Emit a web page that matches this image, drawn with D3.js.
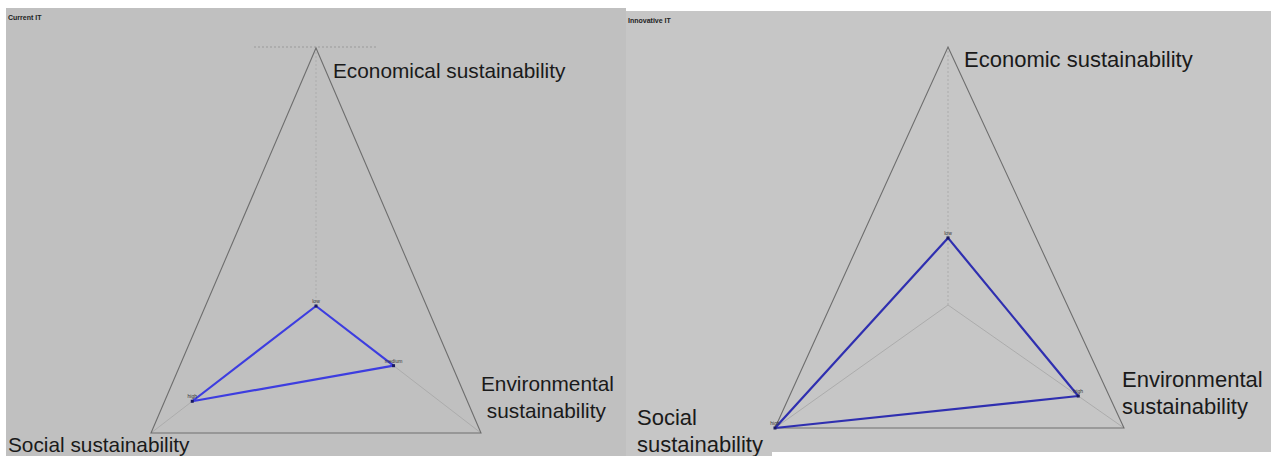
<!DOCTYPE html>
<html>
<head>
<meta charset="utf-8">
<script src="https://cdn.jsdelivr.net/npm/d3@7"></script>
<style>
  body { margin: 0; background: #ffffff; }
  svg { display: block; }
  .axis-label { font-family: "Liberation Sans", Arial, sans-serif; fill: #1a1a1a; }
  .title { font-family: "Liberation Sans", Arial, sans-serif; font-size: 7px; font-weight: bold; fill: #222; }
  .pt-label { font-family: "Liberation Sans", Arial, sans-serif; font-size: 5px; fill: #333; }
</style>
</head>
<body>
<svg id="chart" width="1271" height="456"></svg>
<script>
// axes of the radar, in drawing order: top, lower right, lower left
var axes = ["Economic", "Environmental", "Social"];

// fraction of the way from centre to the outer vertex
var current_values = [0.0, 0.47, 0.75];
var innovative_values = [0.26, 0.74, 1.0];

var current_point_labels = ["low", "medium", "high"];
var innovative_point_labels = ["low", "high", "high"];

var svg = d3.select("#chart");

// Panel layouts
var panels = [
  {
    title: "Current IT",
    values: current_values,
    point_labels: current_point_labels,
    bg: "#c0c0c0",
    box: [6, 8, 620, 448],
    center: [316, 306],
    vertices: [[316, 48], [481, 433], [151, 433]],
    line_color: "#3d3de0",
    top_rule: true,
    font_size: 20.8,
    labels: [
      {x: 333, y: 78, lines: ["Economical sustainability"]},
      {x: 481, y: 391, lines: ["Environmental", " sustainability"]},
      {x: 8, y: 452, lines: ["Social sustainability"]}
    ]
  },
  {
    title: "Innovative IT",
    values: innovative_values,
    point_labels: innovative_point_labels,
    bg: "#c6c6c6",
    box: [626, 11, 645, 441],
    center: [948, 305],
    vertices: [[948, 47], [1124, 428], [775, 428]],
    line_color: "#2f2fb0",
    top_rule: false,
    font_size: 22,
    labels: [
      {x: 964, y: 67, lines: ["Economic sustainability"]},
      {x: 1122, y: 387, lines: ["Environmental", "sustainability"]},
      {x: 637, y: 425, lines: ["Social", "sustainability"]}
    ]
  }
];

// right panel label column spills a little lower on its left side
svg.append("rect")
  .attr("x", 626).attr("y", 440).attr("width", 146).attr("height", 16)
  .style("fill", "#c6c6c6");

panels.forEach(function (p) {
  var g = svg.append("g");

  g.append("rect")
    .attr("x", p.box[0]).attr("y", p.box[1])
    .attr("width", p.box[2]).attr("height", p.box[3])
    .style("fill", p.bg);

  g.append("text")
    .attr("class", "title")
    .attr("x", p.box[0] + 2).attr("y", p.box[1] + 12)
    .text(p.title);

  // one scale per axis, value -> point on the centre-to-vertex line
  var scales = p.vertices.map(function (v) {
    return d3.scaleLinear().domain([0, 1]).range([p.center, v])
      .interpolate(d3.interpolateArray);
  });

  if (p.top_rule) {
    g.append("line")
      .attr("x1", p.center[0] - 62).attr("x2", p.center[0] + 60)
      .attr("y1", p.vertices[0][1] - 1).attr("y2", p.vertices[0][1] - 1)
      .style("stroke", "#9a9a9a").style("stroke-width", 1)
      .style("stroke-dasharray", "2,2");
  }

  // spokes
  g.selectAll(".spoke")
    .data(axes)
    .enter()
    .append("line")
    .attr("class", "spoke")
    .attr("x1", function (d, i) { return scales[i](0)[0]; })
    .attr("y1", function (d, i) { return scales[i](0)[1]; })
    .attr("x2", function (d, i) { return scales[i](1)[0]; })
    .attr("y2", function (d, i) { return scales[i](1)[1]; })
    .style("stroke", "#acacac")
    .style("stroke-width", 1)
    .style("stroke-dasharray", function (d, i) { return i == 0 ? "2,2" : null; });

  // outer frame
  var line = d3.line();
  g.append("path")
    .attr("d", line(axes.map(function (d, i) { return scales[i](1); })) + "Z")
    .style("fill", "none")
    .style("stroke", "#6e6e6e")
    .style("stroke-width", 1.1);

  // data polygon
  var pts = p.values.map(function (v, i) { return scales[i](v); });
  g.append("path")
    .attr("d", line(pts) + "Z")
    .style("fill", "none")
    .style("stroke", p.line_color)
    .style("stroke-width", 2.2)
    .style("stroke-linejoin", "round");

  g.selectAll(".pt")
    .data(pts)
    .enter()
    .append("rect")
    .attr("class", "pt")
    .attr("x", function (d) { return d[0] - 1.5; })
    .attr("y", function (d) { return d[1] - 1.5; })
    .attr("width", 3).attr("height", 3)
    .style("fill", "#1a1a60");

  g.selectAll(".pt-label")
    .data(pts)
    .enter()
    .append("text")
    .attr("class", "pt-label")
    .attr("x", function (d) { return d[0]; })
    .attr("y", function (d) { return d[1] - 3; })
    .style("text-anchor", "middle")
    .text(function (d, i) { return p.point_labels[i]; });

  // axis captions
  p.labels.forEach(function (l) {
    var t = g.append("text")
      .attr("class", "axis-label")
      .style("font-size", p.font_size + "px")
      .attr("x", l.x).attr("y", l.y);
    l.lines.forEach(function (s, k) {
      t.append("tspan")
        .attr("x", l.x)
        .attr("dy", k == 0 ? 0 : 27)
        .text(s);
    });
  });
});
</script>
</body>
</html>
